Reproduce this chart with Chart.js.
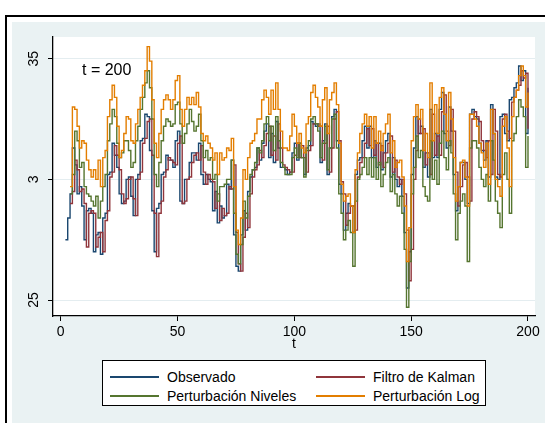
<!DOCTYPE html>
<html lang="es">
<head>
<meta charset="UTF-8">
<title>Observado vs filtros</title>
<style>
  body { margin: 0; background: #fff; }
  #wrap { position: relative; width: 545px; height: 423px; overflow: hidden; }
  #grafico { position: absolute; left: 0; top: 0; }
  #leyenda {
    position: absolute; left: 102px; top: 360px; width: 382px; height: 44px;
    border: 1.5px solid #000; background: #fff;
    font-family: "Liberation Sans", Arial, sans-serif; font-size: 14px; color: #000;
  }
  .item { position: absolute; height: 18px; line-height: 18px; white-space: nowrap; }
  .item span.linea { position: absolute; left: 0; top: 8px; width: 49px; height: 1.5px; }
  .item span.txt { position: absolute; left: 57px; top: 0; }
</style>
</head>
<body>
<div id="wrap">
  <canvas id="grafico" width="545" height="423"></canvas>
  <div id="leyenda"></div>
</div>
<script src="https://cdn.jsdelivr.net/npm/chart.js"></script>
<script>
// periodos t = 1..200
const t = Array.from({ length: 200 }, (_, i) => i + 1);

const xTicks = [0, 50, 100, 150, 200];
const yTicks = [2.5, 3, 3.5];
const yTickLabels = ['25', '3', '35'];
const anotacion = 't = 200';

const nombres = ['Observado', 'Filtro de Kalman', 'Perturbación Niveles', 'Perturbación Log'];
const colores = ['#1a476f', '#90353b', '#55752f', '#e37e00'];

const observado = [
  null, 2.75, 2.84, 2.94, 3.13, 3.06, 2.94, 2.97, 2.89, 2.75,
  2.87, 2.88, 2.86, 2.70, 2.77, 2.78, 2.69, 2.84, 2.86, 3.02,
  3.03, 3.15, 3.10, 3.05, 2.94, 2.90, 2.91, 3.00, 3.01, 2.93,
  2.85, 3.00, 3.02, 3.16, 3.17, 3.27, 3.26, 3.12, 2.87, 2.70,
  2.88, 2.90, 3.02, 3.03, 3.10, 3.08, 3.08, 3.05, 3.16, 3.20,
  2.91, 2.90, 3.00, 3.00, 3.07, 3.11, 3.11, 3.08, 3.15, 3.02,
  2.98, 3.02, 3.00, 2.99, 2.87, 2.95, 2.82, 2.89, 2.84, 2.85,
  2.98, 2.96, 3.08, 2.77, 2.64, 2.62, 2.77, 2.87, 2.79, 2.95,
  3.01, 3.04, 3.05, 3.13, 3.08, 3.15, 3.20, 3.23, 3.09, 3.19,
  3.07, 3.24, 3.13, 3.05, 3.05, 3.04, 3.02, 3.03, 3.11, 3.15,
  3.08, 3.15, 3.09, 3.02, 3.13, 3.14, 3.24, 3.23, 3.22, 3.23,
  3.07, 3.16, 3.23, 3.02, 3.13, 3.26, 3.29, 3.16, 2.98, 2.94,
  2.79, 2.86, 2.90, 2.89, 2.78, 3.02, 3.08, 3.09, 3.16, 3.22,
  3.13, 3.22, 3.09, 3.16, 3.05, 3.15, 3.04, 3.11, 3.16, 3.19,
  3.01, 3.09, 3.00, 2.97, 3.00, 2.93, 2.78, 2.55, 2.70, 3.02,
  3.13, 3.26, 3.19, 3.22, 3.05, 3.11, 3.01, 3.29, 3.09, 3.19,
  3.09, 3.29, 3.36, 3.19, 3.13, 3.30, 3.20, 3.02, 2.87, 2.97,
  3.07, 3.07, 3.00, 2.90, 3.27, 3.29, 3.26, 3.25, 3.15, 3.12,
  3.08, 3.16, 3.01, 3.31, 3.19, 3.01, 3.00, 3.26, 3.27, 3.19,
  3.16, 3.33, 3.34, 3.38, 3.40, 3.47, 3.41, 3.45, 3.19, 3.38
];

const kalman = [
  null, null, null, 2.90, 2.95, 3.08, 3.04, 2.95, 2.96, 2.90,
  2.72, 2.86, 2.87, 2.86, 2.72, 2.76, 2.78, 2.70, 2.83, 2.87,
  3.01, 3.03, 3.14, 3.10, 3.04, 2.94, 2.90, 2.92, 3.00, 3.01,
  2.92, 2.85, 3.00, 3.03, 3.15, 3.17, 3.24, 3.25, 3.10, 2.86,
  2.68, 2.86, 2.91, 3.01, 3.04, 3.09, 3.08, 3.07, 3.06, 3.15,
  3.18, 2.90, 2.91, 3.00, 3.01, 3.07, 3.10, 3.11, 3.08, 3.14,
  3.03, 2.98, 3.02, 3.00, 2.99, 2.88, 2.94, 2.83, 2.88, 2.85,
  2.86, 2.97, 2.96, 3.06, 2.78, 2.65, 2.62, 2.76, 2.86, 2.80,
  2.94, 3.01, 3.04, 3.06, 3.12, 3.09, 3.14, 3.19, 3.22, 3.10,
  3.18, 3.08, 3.23, 3.13, 3.06, 3.05, 3.04, 3.03, 3.03, 3.10,
  3.15, 3.09, 3.14, 3.09, 3.03, 3.12, 3.14, 3.23, 3.23, 3.22,
  3.22, 3.08, 3.15, 3.22, 3.03, 3.13, 3.25, 3.28, 3.16, 2.99,
  2.94, 2.81, 2.86, 2.89, 2.89, 2.79, 3.01, 3.07, 3.09, 3.15,
  3.21, 3.14, 3.21, 3.10, 3.15, 3.06, 3.14, 3.05, 3.11, 3.15,
  3.18, 3.03, 3.08, 3.01, 2.98, 3.00, 2.94, 2.79, 2.58, 2.71,
  3.00, 3.12, 3.25, 3.19, 3.21, 3.06, 3.11, 3.02, 3.27, 3.10,
  3.18, 3.10, 3.28, 3.35, 3.20, 3.14, 3.29, 3.20, 3.03, 2.89,
  2.97, 3.06, 3.07, 3.01, 2.91, 3.25, 3.28, 3.26, 3.24, 3.16,
  3.12, 3.09, 3.16, 3.02, 3.29, 3.20, 3.02, 3.01, 3.25, 3.27,
  3.20, 3.17, 3.32, 3.34, 3.37, 3.39, 3.45, 3.42, 3.44, 3.21
];

const pertNiveles = [
  null, null, null, 2.94, 3.02, 3.20, 3.16, 3.05, 3.07, 2.97,
  2.94, 2.93, 2.91, 2.89, 2.93, 2.84, 2.91, 2.97, 3.02, 3.16,
  3.23, 3.29, 3.26, 3.15, 3.09, 3.11, 3.16, 3.16, 3.12, 3.05,
  3.07, 3.16, 3.22, 3.29, 3.34, 3.40, 3.45, 3.38, 3.25, 3.02,
  2.97, 3.07, 3.16, 3.22, 3.25, 3.24, 3.22, 3.23, 3.31, 3.32,
  3.23, 3.15, 3.19, 3.23, 3.29, 3.24, 3.20, 3.22, 3.27, 3.16,
  3.09, 3.12, 3.08, 3.09, 3.00, 3.02, 2.91, 2.97, 2.97, 2.98,
  3.00, 3.00, 3.08, 2.86, 2.69, 2.65, 2.73, 2.91, 2.84, 2.93,
  3.02, 3.04, 3.07, 3.13, 3.11, 3.16, 3.23, 3.26, 3.16, 3.22,
  3.12, 3.26, 3.16, 3.07, 3.05, 3.02, 3.02, 3.02, 3.09, 3.13,
  3.09, 3.15, 3.09, 3.01, 3.12, 3.16, 3.25, 3.26, 3.23, 3.20,
  3.09, 3.15, 3.22, 3.04, 3.13, 3.25, 3.27, 3.13, 2.94, 2.86,
  2.75, 2.79, 2.83, 2.78, 2.64, 2.91, 3.00, 3.02, 3.05, 3.09,
  3.02, 3.09, 3.01, 3.09, 3.00, 3.07, 2.97, 3.02, 3.07, 3.09,
  2.95, 3.02, 2.94, 2.89, 2.93, 2.86, 2.71, 2.47, 2.66, 2.94,
  3.05, 3.18, 3.09, 3.12, 2.97, 2.93, 2.91, 3.16, 3.00, 3.08,
  2.98, 3.15, 3.20, 3.09, 3.04, 3.16, 3.11, 2.94, 2.75, 2.86,
  2.91, 2.94, 2.89, 2.66, 3.13, 3.16, 3.16, 3.13, 3.05, 3.00,
  2.97, 3.02, 2.91, 3.16, 3.08, 2.91, 2.86, 2.80, 3.02, 3.11,
  3.00, 2.86, 3.16, 3.19, 3.26, 3.33, 3.30, 3.26, 3.05, 3.18
];

const pertLog = [
  null, null, null, 2.97, 3.30, 3.29, 3.22, 3.13, 3.16, 3.15,
  3.08, 3.04, 3.01, 3.04, 3.00, 3.08, 2.97, 3.09, 3.12, 3.26,
  3.33, 3.39, 3.34, 3.22, 3.09, 3.12, 3.19, 3.26, 3.25, 3.16,
  3.15, 3.23, 3.29, 3.34, 3.39, 3.45, 3.55, 3.49, 3.33, 3.15,
  3.09, 3.19, 3.29, 3.33, 3.35, 3.33, 3.29, 3.33, 3.41, 3.43,
  3.29, 3.22, 3.29, 3.34, 3.31, 3.34, 3.31, 3.36, 3.30, 3.19,
  3.16, 3.18, 3.15, 3.13, 3.08, 3.11, 3.02, 3.11, 3.08, 3.09,
  3.13, 3.12, 3.17, 2.97, 2.79, 2.73, 2.84, 3.04, 3.00, 3.09,
  3.15, 3.16, 3.19, 3.25, 3.25, 3.33, 3.37, 3.34, 3.27, 3.37,
  3.29, 3.40, 3.29, 3.20, 3.13, 3.13, 3.12, 3.18, 3.27, 3.22,
  3.15, 3.19, 3.13, 3.11, 3.23, 3.26, 3.36, 3.39, 3.34, 3.30,
  3.22, 3.33, 3.38, 3.19, 3.33, 3.36, 3.40, 3.31, 3.15, 2.98,
  2.91, 2.93, 2.94, 2.89, 2.78, 3.04, 3.11, 3.19, 3.23, 3.27,
  3.22, 3.26, 3.13, 3.26, 3.15, 3.20, 3.12, 3.19, 3.23, 3.27,
  3.11, 3.16, 3.05, 3.07, 3.08, 3.01, 2.89, 2.66, 2.80, 3.16,
  3.26, 3.31, 3.25, 3.29, 3.12, 3.19, 3.09, 3.40, 3.16, 3.31,
  3.19, 3.34, 3.38, 3.27, 3.16, 3.36, 3.25, 3.09, 2.91, 2.97,
  3.07, 3.08, 3.01, 2.89, 3.27, 3.27, 3.25, 3.22, 3.15, 3.11,
  3.05, 3.15, 2.98, 3.29, 3.19, 3.00, 2.97, 2.93, 3.22, 3.26,
  3.13, 2.97, 3.26, 3.34, 3.37, 3.43, 3.47, 3.43, 3.30, 3.36
];

const series = [observado, kalman, pertNiveles, pertLog];
const FUENTE = '"Liberation Sans", Arial, sans-serif';

// fondo azulado con marco, area de graficado en blanco y la anotacion
const fondo = {
  id: 'fondo',
  beforeDraw(chart) {
    const { ctx, width, height, chartArea: a } = chart;
    ctx.save();
    ctx.fillStyle = '#ffffff';
    ctx.fillRect(0, 0, width, height);
    ctx.fillStyle = '#eaf2f3';
    ctx.fillRect(12, 22, width - 12, height - 22);
    ctx.strokeStyle = '#000';
    ctx.lineWidth = 2;
    ctx.beginPath();
    ctx.moveTo(6, height);
    ctx.lineTo(6, 16);
    ctx.lineTo(width, 16);
    ctx.stroke();
    ctx.fillStyle = '#ffffff';
    ctx.fillRect(a.left, a.top, a.right - a.left, a.bottom - a.top);
    ctx.restore();
  },
  afterDraw(chart) {
    const { ctx } = chart;
    ctx.save();
    ctx.fillStyle = '#000';
    ctx.font = '16px ' + FUENTE;
    ctx.textBaseline = 'alphabetic';
    ctx.fillText(anotacion, 82, 75);
    ctx.restore();
  }
};

const ctx = document.getElementById('grafico').getContext('2d');
const chart = new Chart(ctx, {
  type: 'line',
  data: {
    labels: t,
    datasets: series.map((d, i) => ({
      label: nombres[i],
      data: d,
      borderColor: colores[i],
      backgroundColor: colores[i],
      borderWidth: 1.4,
      pointRadius: 0,
      stepped: true,
      fill: false,
      order: 4 - i
    }))
  },
  options: {
    responsive: false,
    animation: false,
    devicePixelRatio: 1,
    layout: { padding: { left: 13, top: 37, right: 10, bottom: 70 } },
    plugins: { legend: { display: false }, tooltip: { enabled: false } },
    scales: {
      x: {
        type: 'linear',
        min: -3.3,
        max: 203,
        afterBuildTicks: s => { s.ticks = xTicks.map(v => ({ value: v })); },
        afterFit: s => { s.height = 37; },
        grid: { drawOnChartArea: false, tickLength: 5, tickColor: '#000' },
        border: { color: '#000', width: 1.3 },
        ticks: { color: '#000', font: { family: FUENTE, size: 14 }, padding: 3, maxRotation: 0 },
        title: { display: true, text: 't', color: '#000', font: { family: FUENTE, size: 14 }, padding: { top: 0, bottom: 0 } }
      },
      y: {
        type: 'linear',
        min: 2.434,
        max: 3.59,
        afterBuildTicks: s => { s.ticks = yTicks.map(v => ({ value: v })); },
        afterFit: s => { s.width = 40; },
        grid: { color: '#e4edf0', lineWidth: 1, tickLength: 5, tickColor: '#000' },
        border: { color: '#000', width: 1.3 },
        ticks: {
          color: '#000',
          font: { family: FUENTE, size: 14 },
          padding: 6,
          minRotation: 90,
          maxRotation: 90,
          crossAlign: 'center',
          callback: v => yTickLabels[yTicks.indexOf(v)]
        }
      }
    }
  },
  plugins: [fondo]
});

// leyenda en dos columnas con recuadro
const leyenda = document.getElementById('leyenda');
const posiciones = [[7, 7], [213, 7], [7, 26], [213, 26]];
nombres.forEach((nombre, i) => {
  const item = document.createElement('div');
  item.className = 'item';
  item.style.left = posiciones[i][0] + 'px';
  item.style.top = posiciones[i][1] + 'px';
  const linea = document.createElement('span');
  linea.className = 'linea';
  linea.style.background = colores[i];
  const txt = document.createElement('span');
  txt.className = 'txt';
  txt.textContent = nombre;
  item.appendChild(linea);
  item.appendChild(txt);
  leyenda.appendChild(item);
});
</script>
</body>
</html>
